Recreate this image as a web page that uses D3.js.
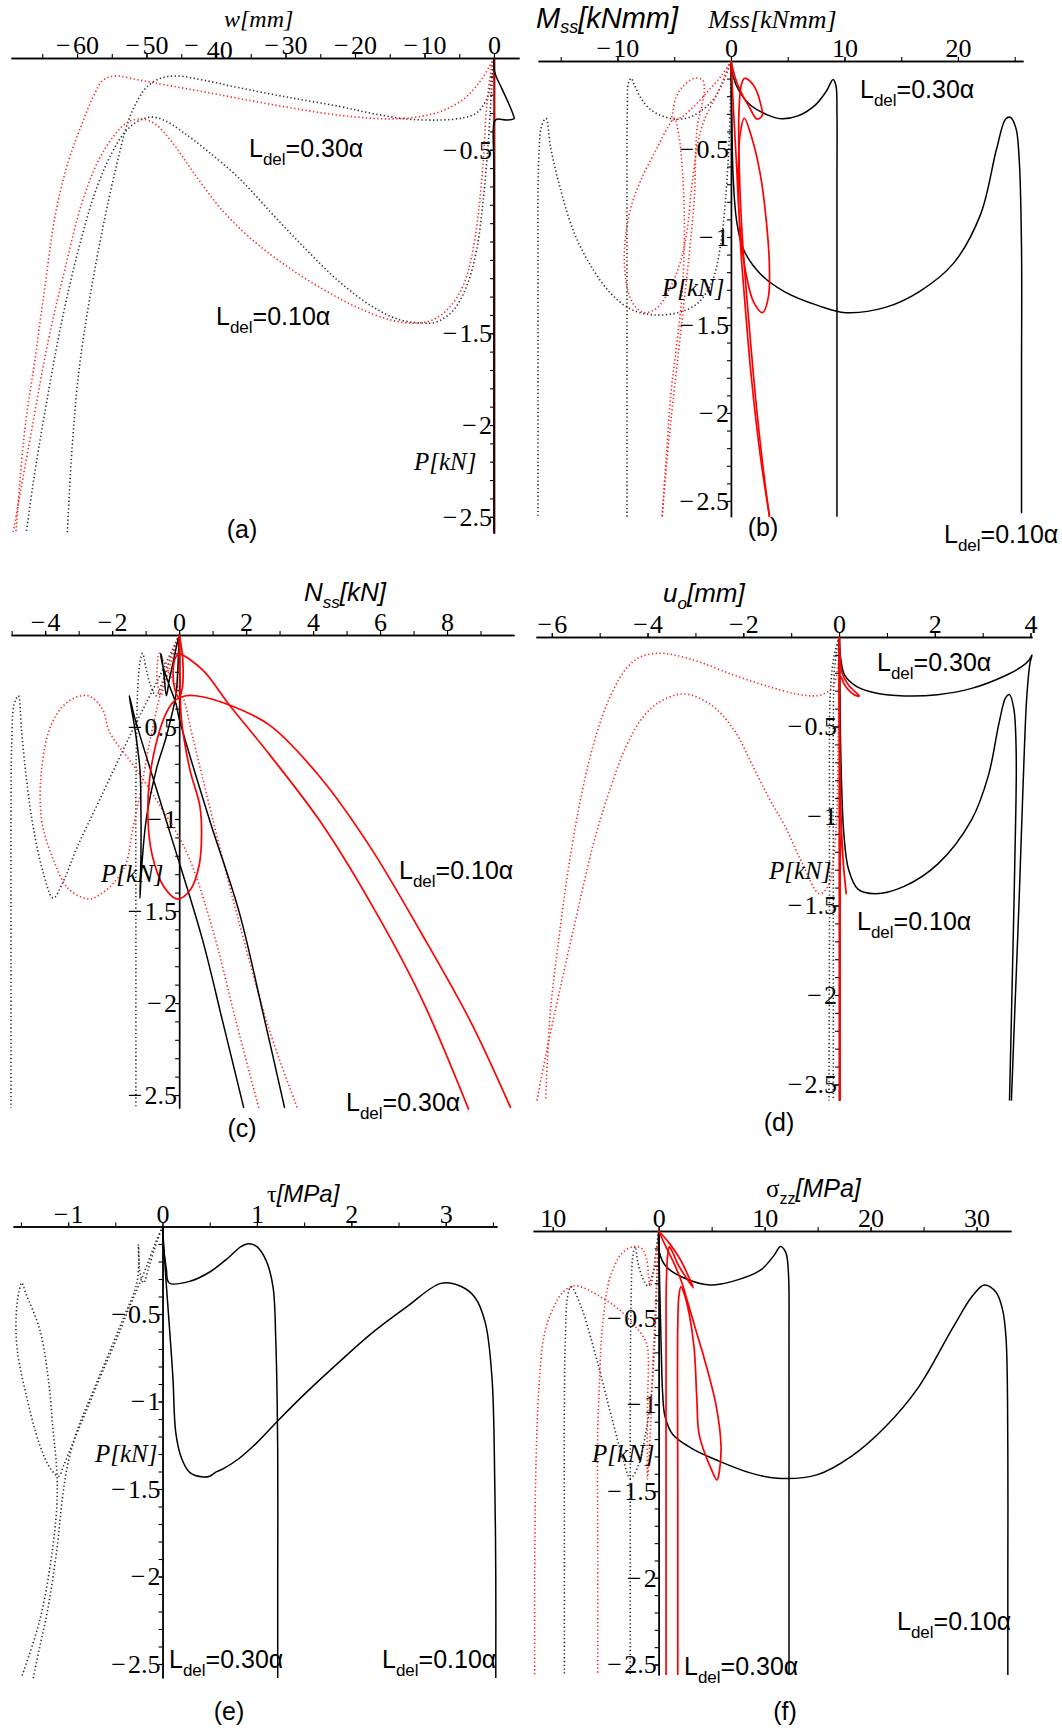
<!DOCTYPE html>
<html>
<head>
<meta charset="utf-8">
<script src="https://cdn.jsdelivr.net/npm/d3@7"></script>
<style>
  html, body { margin: 0; padding: 0; background: #fff; }
  svg { display: block; }
</style>
</head>
<body>
<svg id="chart" width="1062" height="1731"></svg>
<script>
// ---------------------------------------------------------------
// Load P [kN] versus response quantities for a delaminated member,
// delamination lengths L_del = 0.10α and 0.30α.
// Each series is a list of [response, P] pairs.
// ---------------------------------------------------------------

// (a) transverse deflection w [mm]
const aBlackDot30 = [[0,0],[-0.34,-0.107],[-1.06,-0.225],[-2.5,-0.299],[-4.4,-0.326],[-7.8,-0.338],[-12.6,-0.332],[-17.4,-0.303],[-22.2,-0.264],[-29.5,-0.215],[-36.7,-0.162],[-41.5,-0.123],[-45.6,-0.098],[-48.0,-0.111],[-49.9,-0.156],[-51.2,-0.225],[-52.6,-0.342],[-54.5,-0.615],[-56.4,-0.947],[-58.3,-1.338],[-59.8,-1.729],[-60.7,-2.119],[-61.4,-2.588]];
const aBlackDot10 = [[0,0],[-0.34,-0.166],[-0.82,-0.459],[-1.54,-0.771],[-2.5,-1.045],[-3.9,-1.24],[-5.9,-1.377],[-8.3,-1.439],[-10.2,-1.445],[-13.6,-1.426],[-17.4,-1.357],[-22.2,-1.221],[-27.0,-1.045],[-31.9,-0.85],[-36.7,-0.654],[-41.5,-0.498],[-44.9,-0.4],[-47.3,-0.342],[-49.2,-0.322],[-51.1,-0.342],[-53.0,-0.4],[-55.0,-0.518],[-57.4,-0.732],[-59.8,-1.045],[-62.2,-1.436],[-64.6,-1.924],[-66.3,-2.314],[-67.3,-2.588]];
const aRedDot30 = [[0,0],[-0.34,-0.025],[-2.0,-0.127],[-4.4,-0.225],[-7.8,-0.293],[-11.2,-0.322],[-15.0,-0.332],[-22.2,-0.312],[-31.9,-0.254],[-41.5,-0.186],[-48.7,-0.137],[-51.5,-0.117],[-54.6,-0.098],[-56.3,-0.123],[-57.6,-0.205],[-59.3,-0.361],[-61.2,-0.557],[-63.1,-0.85],[-64.6,-1.24],[-66.0,-1.63],[-67.5,-2.02],[-68.8,-2.588]];
const aRedDot10 = [[0,0],[-0.34,-0.049],[-1.06,-0.264],[-1.54,-0.557],[-2.26,-0.85],[-3.22,-1.084],[-4.43,-1.24],[-6.35,-1.357],[-8.76,-1.426],[-11.65,-1.445],[-15.0,-1.426],[-19.8,-1.357],[-24.6,-1.26],[-29.5,-1.143],[-34.3,-1.006],[-39.1,-0.83],[-43.4,-0.615],[-46.3,-0.459],[-48.7,-0.361],[-50.8,-0.332],[-52.8,-0.352],[-54.6,-0.42],[-56.9,-0.557],[-59.3,-0.791],[-61.7,-1.143],[-64.1,-1.533],[-66.5,-2.021],[-69.2,-2.588]];
const aBlackSolid = [[0,0],[0,-0.06],[0.3,-0.1],[0.87,-0.146],[2.07,-0.244],[2.79,-0.312],[2.9,-0.33],[1.83,-0.338],[0.38,-0.334],[0.02,-0.35],[0,-0.6],[0,-1.5],[0,-2.59]];
const aRedSolid = [[0,0],[0,-0.8],[0,-1.6],[0,-2.59]];

// (b) bending moment Mss [kNmm]
const bBlackDot30 = [[0,0],[-0.73,-0.127],[-1.47,-0.212],[-2.35,-0.269],[-3.5,-0.316],[-4.7,-0.331],[-5.9,-0.316],[-7.05,-0.278],[-7.93,-0.212],[-8.5,-0.136],[-8.8,-0.098],[-9.04,-0.127],[-9.13,-0.259],[-9.16,-0.544],[-9.16,-1.5],[-9.16,-2.59]];
const bBlackDot10 = [[0,0],[-0.06,-0.26],[-0.23,-0.544],[-0.53,-0.828],[-0.94,-1.055],[-1.61,-1.244],[-2.94,-1.377],[-4.7,-1.43],[-6.75,-1.443],[-8.8,-1.411],[-10.6,-1.32],[-12.3,-1.169],[-13.8,-0.979],[-15.0,-0.733],[-15.9,-0.487],[-16.3,-0.326],[-16.7,-0.373],[-16.9,-0.506],[-17.0,-0.733],[-17.0,-1.017],[-17.0,-1.8],[-17.0,-2.59]];
const bRedDot30 = [[0,0],[-0.8,-0.08],[-2.0,-0.17],[-3.3,-0.26],[-4.4,-0.32],[-5.14,-0.335],[-5.1,-0.28],[-4.8,-0.2],[-4.26,-0.146],[-3.23,-0.098],[-2.5,-0.108],[-2.35,-0.165],[-2.58,-0.26],[-2.94,-0.36],[-3.1,-0.5],[-3.2,-0.75],[-3.6,-1.05],[-4.1,-1.35],[-4.7,-1.7],[-5.3,-2.05],[-5.75,-2.35],[-6.05,-2.59]];
const bRedDot10 = [[0,0],[-1.17,-0.18],[-2.35,-0.335],[-2.94,-0.47],[-3.23,-0.6],[-3.52,-0.75],[-3.82,-0.94],[-4.4,-1.13],[-5.29,-1.28],[-6.46,-1.4],[-7.64,-1.43],[-8.5,-1.39],[-9.1,-1.3],[-9.4,-1.13],[-9.25,-0.98],[-8.81,-0.83],[-7.93,-0.676],[-6.46,-0.487],[-5.5,-0.37],[-5.0,-0.326],[-4.6,-0.42],[-4.25,-0.65],[-4.1,-0.95],[-4.3,-1.32],[-4.8,-1.62],[-5.29,-1.89],[-5.7,-2.25],[-6.08,-2.59]];
const bBlackSolid30 = [[0,0],[0.2,-0.09],[0.8,-0.18],[1.7,-0.25],[3.2,-0.306],[4.4,-0.328],[5.9,-0.312],[7.4,-0.252],[8.4,-0.172],[9.0,-0.105],[9.25,-0.14],[9.34,-0.3],[9.34,-0.666],[9.34,-1.6],[9.34,-2.59]];
const bBlackSolid10 = [[0,0],[0.06,-0.26],[0.2,-0.666],[0.5,-0.908],[1.1,-1.07],[2.6,-1.21],[4.7,-1.31],[7.7,-1.39],[10.1,-1.43],[13.6,-1.4],[16.6,-1.31],[19.6,-1.15],[22.0,-0.87],[23.4,-0.5],[24.2,-0.33],[24.6,-0.32],[25.1,-0.38],[25.4,-0.565],[25.6,-1.07],[25.6,-1.8],[25.6,-2.57]];
const bRedSolid30 = [[0,0],[0.4,-0.1],[0.9,-0.18],[1.6,-0.26],[2.3,-0.33],[2.75,-0.31],[2.6,-0.24],[2.1,-0.15],[1.5,-0.105],[1.17,-0.1],[0.9,-0.14],[0.7,-0.3],[0.73,-0.6],[1.0,-1.0],[1.6,-1.5],[2.3,-2.0],[3.0,-2.4],[3.4,-2.59]];
const bRedSolid10 = [[0,0],[0.2,-0.25],[0.5,-0.6],[0.8,-0.95],[1.3,-1.2],[2.0,-1.37],[2.79,-1.43],[3.3,-1.34],[3.38,-1.15],[3.1,-0.9],[2.6,-0.65],[1.9,-0.45],[1.17,-0.326],[0.8,-0.42],[0.66,-0.64],[0.8,-1.0],[1.2,-1.35],[1.8,-1.8],[2.6,-2.25],[3.4,-2.59]];

// (c) axial force Nss [kN]
const cBlackDot30 = [[0,0],[-0.25,-0.12],[-0.49,-0.25],[-0.69,-0.33],[-0.86,-0.27],[-0.99,-0.18],[-1.09,-0.1],[-1.17,-0.15],[-1.24,-0.31],[-1.27,-0.55],[-1.29,-0.82],[-1.29,-1.7],[-1.29,-2.57]];
const cBlackDot10 = [[0,0],[-0.57,-0.22],[-1.37,-0.51],[-2.36,-0.89],[-3.06,-1.16],[-3.46,-1.34],[-3.76,-1.43],[-4.06,-1.29],[-4.36,-1.04],[-4.56,-0.78],[-4.71,-0.51],[-4.8,-0.33],[-4.93,-0.38],[-5.0,-0.6],[-5.02,-1.0],[-5.02,-1.8],[-5.02,-2.57]];
const cRedDot30 = [[0,0],[-0.22,-0.14],[-0.42,-0.26],[-0.55,-0.33],[-0.66,-0.24],[-0.64,-0.14],[-0.6,-0.1],[-0.45,-0.15],[-0.2,-0.24],[0.1,-0.33],[0.4,-0.55],[0.8,-0.85],[1.7,-1.5],[2.7,-2.15],[3.55,-2.58]];
const cRedDot10 = [[0,0],[-0.3,-0.15],[-0.6,-0.35],[-0.9,-0.6],[-1.15,-0.85],[-1.37,-1.04],[-1.6,-1.25],[-1.92,-1.34],[-2.36,-1.41],[-2.69,-1.435],[-3.3,-1.38],[-3.8,-1.2],[-4.11,-1.0],[-4.1,-0.72],[-3.8,-0.48],[-3.3,-0.36],[-2.72,-0.33],[-2.3,-0.4],[-2.07,-0.53],[-1.4,-0.7],[-0.77,-0.87],[0.22,-1.18],[1.0,-1.6],[1.7,-2.1],[2.38,-2.57]];
const cBlackSolid30 = [[0,0],[-0.1,-0.08],[-0.18,-0.15],[-0.3,-0.25],[-0.38,-0.33],[-0.45,-0.22],[-0.52,-0.12],[-0.55,-0.1],[-0.5,-0.16],[-0.3,-0.27],[-0.1,-0.37],[0.01,-0.46],[0.9,-1.0],[1.8,-1.51],[2.5,-2.05],[3.15,-2.57]];
const cBlackSolid10 = [[0,0],[-0.03,-0.15],[-0.1,-0.33],[-0.38,-0.55],[-0.68,-0.73],[-0.98,-1.0],[-1.12,-1.27],[-1.17,-1.43],[-1.14,-1.2],[-1.14,-0.95],[-1.17,-0.73],[-1.32,-0.51],[-1.49,-0.33],[-1.42,-0.38],[-1.31,-0.46],[-0.28,-1.07],[0.69,-1.65],[1.3,-2.1],[1.93,-2.57]];
const cRedSolid30 = [[0,0],[0.08,-0.08],[0.12,-0.18],[0.1,-0.28],[0.0,-0.34],[-0.12,-0.3],[-0.18,-0.2],[-0.1,-0.12],[0,-0.104],[0.7,-0.19],[1.5,-0.38],[2.7,-0.65],[4.2,-1.01],[5.7,-1.45],[7.2,-1.96],[8.65,-2.58]];
const cRedSolid10 = [[0,0],[0.02,-0.2],[0.07,-0.46],[0.32,-0.73],[0.62,-0.93],[0.67,-1.09],[0.6,-1.25],[0.35,-1.38],[-0.05,-1.435],[-0.45,-1.37],[-0.8,-1.2],[-0.93,-1.0],[-0.88,-0.78],[-0.7,-0.6],[-0.45,-0.45],[-0.15,-0.36],[0.2,-0.33],[0.5,-0.33],[1.5,-0.38],[2.7,-0.49],[4.2,-0.77],[5.7,-1.15],[7.2,-1.61],[8.7,-2.1],[9.9,-2.57]];

// (d) axial displacement u_o [mm]
const dBlackDot30 = [[0,0],[-0.05,-0.08],[-0.1,-0.2],[-0.12,-0.5],[-0.12,-1.5],[-0.12,-2.59]];
const dBlackDot10 = [[0,0],[-0.1,-0.1],[-0.18,-0.3],[-0.2,-1.0],[-0.2,-1.45],[-0.21,-2.59]];
const dRedDot30 = [[0,0],[-0.02,-0.153],[-0.13,-0.277],[-0.34,-0.32],[-0.55,-0.329],[-0.9,-0.318],[-1.47,-0.277],[-2.18,-0.215],[-2.88,-0.143],[-3.45,-0.1],[-3.8,-0.091],[-4.15,-0.112],[-4.44,-0.174],[-4.79,-0.339],[-5.07,-0.545],[-5.36,-0.855],[-5.64,-1.27],[-5.85,-1.68],[-6.03,-2.095],[-6.13,-2.59]];
const dRedDot10 = [[0,0],[-0.02,-0.649],[-0.06,-1.062],[-0.13,-1.269],[-0.23,-1.393],[-0.41,-1.434],[-0.76,-1.269],[-1.12,-1.062],[-1.47,-0.897],[-1.82,-0.711],[-2.18,-0.525],[-2.67,-0.38],[-3.24,-0.318],[-3.73,-0.36],[-4.08,-0.442],[-4.44,-0.607],[-4.79,-0.855],[-5.14,-1.165],[-5.5,-1.578],[-5.85,-1.992],[-6.13,-2.343],[-6.31,-2.59]];
const dBlackSolid30 = [[0,0],[0.03,-0.112],[0.12,-0.215],[0.37,-0.277],[0.79,-0.314],[1.36,-0.329],[2.06,-0.322],[2.77,-0.287],[3.48,-0.215],[3.83,-0.163],[3.97,-0.128],[4.03,-0.101],[3.99,-0.143],[3.92,-0.339],[3.84,-0.855],[3.76,-1.475],[3.67,-2.095],[3.6,-2.59]];
const dBlackSolid10 = [[0,0],[0.02,-0.4],[0.05,-0.8],[0.1,-1.1],[0.2,-1.3],[0.4,-1.41],[0.76,-1.434],[1.36,-1.393],[2.06,-1.269],[2.77,-1.02],[3.12,-0.773],[3.34,-0.483],[3.48,-0.339],[3.56,-0.322],[3.65,-0.4],[3.7,-0.649],[3.67,-1.269],[3.62,-1.888],[3.56,-2.59]];
const dRedSolid30 = [[0,0],[0.02,-0.1],[0.06,-0.2],[0.2,-0.27],[0.42,-0.33],[0.3,-0.32],[0.12,-0.27],[0.03,-0.22],[0.01,-0.5],[0.01,-1.5],[0.01,-2.59]];
const dRedSolid10 = [[0,0],[0.01,-0.5],[0.04,-1.0],[0.1,-1.3],[0.15,-1.434],[0.1,-1.3],[0.04,-1.1],[0.02,-1.5],[0.02,-2.0],[0.02,-2.59]];

// (e) shear stress τ [MPa]
const eBlackDot30 = [[0,0],[-0.08,-0.12],[-0.15,-0.24],[-0.2,-0.322],[-0.24,-0.26],[-0.256,-0.103],[-0.25,-0.2],[-0.28,-0.34],[-0.42,-0.53],[-0.58,-0.74],[-0.75,-0.96],[-0.9,-1.16],[-1.0,-1.35],[-1.06,-1.55],[-1.12,-1.85],[-1.22,-2.2],[-1.3,-2.4],[-1.37,-2.58]];
const eBlackDot10 = [[0,0],[-0.08,-0.1],[-0.2,-0.27],[-0.35,-0.46],[-0.5,-0.66],[-0.66,-0.86],[-0.82,-1.07],[-0.96,-1.25],[-1.05,-1.37],[-1.1,-1.427],[-1.18,-1.39],[-1.3,-1.25],[-1.45,-0.95],[-1.54,-0.7],[-1.55,-0.5],[-1.52,-0.37],[-1.49,-0.322],[-1.45,-0.38],[-1.3,-0.59],[-1.21,-0.87],[-1.16,-1.16],[-1.12,-1.4],[-1.12,-1.6],[-1.18,-1.9],[-1.3,-2.25],[-1.49,-2.57]];
const eBlackSolid30 = [[0,0],[0.01,-0.115],[0.04,-0.24],[0.07,-0.323],[0.29,-0.313],[0.5,-0.26],[0.7,-0.177],[0.83,-0.115],[0.91,-0.098],[1.0,-0.115],[1.1,-0.198],[1.17,-0.344],[1.2,-0.656],[1.22,-1.28],[1.22,-2.0],[1.22,-2.58]];
const eBlackSolid10 = [[0,0],[0.036,-0.302],[0.07,-0.552],[0.11,-0.865],[0.14,-1.177],[0.2,-1.323],[0.29,-1.406],[0.43,-1.431],[0.5,-1.427],[0.56,-1.405],[0.64,-1.385],[0.8,-1.33],[1.0,-1.235],[1.24,-1.1],[1.51,-0.955],[1.87,-0.775],[2.23,-0.604],[2.59,-0.458],[2.95,-0.325],[3.17,-0.344],[3.31,-0.406],[3.42,-0.552],[3.49,-0.865],[3.52,-1.49],[3.53,-2.0],[3.53,-2.58]];

// (f) normal stress σzz [MPa]
const fBlackDot30 = [[0,0],[-0.2,-0.1],[-0.57,-0.25],[-1.04,-0.316],[-1.51,-0.272],[-1.98,-0.178],[-2.2,-0.091],[-2.45,-0.15],[-2.6,-0.389],[-2.67,-0.77],[-2.68,-1.6],[-2.68,-2.56]];
const fBlackDot10 = [[0,0],[-0.15,-0.25],[-0.41,-0.677],[-0.73,-0.965],[-1.2,-1.157],[-1.9,-1.35],[-2.68,-1.427],[-3.3,-1.33],[-4.5,-1.06],[-5.5,-0.82],[-6.39,-0.62],[-7.3,-0.44],[-8.27,-0.321],[-8.6,-0.38],[-8.8,-0.6],[-8.9,-1.0],[-8.9,-1.8],[-8.9,-2.56]];
const fRedDot30 = [[0,0],[-0.25,-0.12],[-0.5,-0.25],[-0.8,-0.32],[-0.95,-0.26],[-1.15,-0.16],[-1.6,-0.1],[-2.45,-0.091],[-3.5,-0.13],[-4.3,-0.22],[-4.7,-0.29],[-5.35,-0.58],[-5.6,-0.9],[-5.75,-1.15],[-5.75,-1.9],[-5.75,-2.56]];
const fRedDot10 = [[0,0],[-0.2,-0.3],[-0.5,-0.7],[-0.75,-1.1],[-0.95,-1.35],[-1.07,-1.43],[-1.08,-1.3],[-1.05,-1.0],[-1.04,-0.677],[-1.35,-0.62],[-2.3,-0.543],[-3.87,-0.446],[-5.75,-0.37],[-7.0,-0.33],[-7.96,-0.316],[-9.0,-0.35],[-10.0,-0.45],[-10.8,-0.6],[-11.3,-0.9],[-11.6,-1.4],[-11.7,-2.0],[-11.7,-2.56]];
const fBlackSolid30 = [[0,0],[0.06,-0.121],[0.7,-0.205],[2.29,-0.268],[4.83,-0.311],[7.05,-0.289],[9.6,-0.226],[10.87,-0.142],[11.5,-0.089],[12.0,-0.125],[12.25,-0.247],[12.3,-0.626],[12.3,-1.6],[12.3,-2.56]];
const fBlackSolid10 = [[0,0],[0.06,-0.205],[0.22,-0.626],[0.38,-0.942],[0.6,-1.07],[1.33,-1.174],[3.24,-1.258],[5.47,-1.321],[8.64,-1.395],[11.19,-1.426],[15.0,-1.405],[18.18,-1.3],[21.35,-1.132],[24.53,-0.9],[27.71,-0.563],[29.62,-0.374],[30.73,-0.311],[31.84,-0.353],[32.47,-0.458],[32.79,-0.626],[32.95,-1.258],[32.95,-2.0],[32.95,-2.56]];
const fRedSolid30 = [[0,0],[1.0,-0.07],[2.0,-0.16],[2.8,-0.26],[3.27,-0.327],[2.6,-0.27],[1.8,-0.19],[1.3,-0.12],[1.0,-0.091],[0.85,-0.14],[0.75,-0.25],[0.7,-0.4],[0.7,-1.5],[0.7,-2.56]];
const fRedSolid10 = [[0,0],[0.6,-0.08],[1.4,-0.18],[2.2,-0.3],[2.73,-0.408],[3.5,-0.57],[4.3,-0.735],[5.4,-1.0],[5.88,-1.235],[5.72,-1.389],[5.5,-1.436],[4.93,-1.369],[3.83,-1.177],[3.6,-0.965],[3.35,-0.677],[2.9,-0.485],[2.4,-0.36],[2.1,-0.321],[1.9,-0.38],[1.8,-0.55],[1.8,-1.5],[1.8,-2.56]];

// Tick values
const aXLabels = [-60, -50, -40, -30, -20, -10, 0];
const bXLabels = [-10, 0, 10, 20];
const cXLabels = [-4, -2, 0, 2, 4, 6, 8];
const dXLabels = [-6, -4, -2, 0, 2, 4];
const eXLabels = [-1, 0, 1, 2, 3];
const fXLabels = [-10, 0, 10, 20, 30];
const pLabels = [-0.5, -1, -1.5, -2, -2.5];
const pLabelsA = [-0.5, -1.5, -2, -2.5];

// ---------------------------------------------------------------
const SERIF = "'Liberation Serif','Times New Roman',Times,serif";
const SANS = "'Liberation Sans',Arial,Helvetica,sans-serif";
const MINUS = "\u2212";
const TICK_FONT = 26;

const lineStyles = {
  blackDot:   { stroke: "#2e2e2e", width: 1.6, dash: "1.3 2.5" },
  redDot:     { stroke: "#ff2020", width: 1.6, dash: "1.3 2.5" },
  blackSolid: { stroke: "#000000", width: 1.5, dash: null },
  redSolid:   { stroke: "#ff0000", width: 1.7, dash: null }
};

const signed = v => (v < 0 ? MINUS + "\u200a" : "") + Math.abs(v);
const minorP = d3.range(1, 26).map(i => -i / 10);

const panels = [
  { id: "a", xDomain: [-69.5, 3.6], xRange: [11, 519], pMin: -2.59, yRange: [58, 533.3],
    xLabels: aXLabels, xMinor: d3.range(-65, 1, 5), xFmt: signed, pLab: pLabelsA,
    series: [[aBlackDot30, "blackDot"], [aBlackDot10, "blackDot"], [aRedDot30, "redDot"], [aRedDot10, "redDot"],
             [aRedSolid, "redSolid"], [aBlackSolid, "blackSolid"]] },
  { id: "b", xDomain: [-17.0, 25.73], xRange: [538, 1023], pMin: -2.59, yRange: [61, 516.8],
    xLabels: bXLabels, xMinor: d3.range(-15, 26, 5), xFmt: signed, pLab: pLabels,
    series: [[bBlackDot30, "blackDot"], [bBlackDot10, "blackDot"], [bRedDot30, "redDot"], [bRedDot10, "redDot"],
             [bBlackSolid30, "blackSolid"], [bBlackSolid10, "blackSolid"], [bRedSolid30, "redSolid"], [bRedSolid10, "redSolid"]] },
  { id: "c", xDomain: [-5.02, 10.0], xRange: [11, 514], pMin: -2.57, yRange: [635, 1107.9],
    xLabels: cXLabels, xMinor: d3.range(-5, 10, 1), xFmt: signed, pLab: pLabels,
    series: [[cBlackDot30, "blackDot"], [cBlackDot10, "blackDot"], [cRedDot30, "redDot"], [cRedDot10, "redDot"],
             [cBlackSolid30, "blackSolid"], [cBlackSolid10, "blackSolid"], [cRedSolid30, "redSolid"], [cRedSolid10, "redSolid"]] },
  { id: "d", xDomain: [-6.33, 4.03], xRange: [536, 1032], pMin: -2.59, yRange: [637, 1100.6],
    xLabels: dXLabels, xMinor: d3.range(-6, 5, 1), xFmt: signed, pLab: pLabels,
    series: [[dBlackDot30, "blackDot"], [dBlackDot10, "blackDot"], [dRedDot30, "redDot"], [dRedDot10, "redDot"],
             [dBlackSolid30, "blackSolid"], [dBlackSolid10, "blackSolid"], [dRedSolid30, "redSolid"], [dRedSolid10, "redSolid"]] },
  { id: "e", xDomain: [-1.584, 3.543], xRange: [13, 497], pMin: -2.58, yRange: [1226.5, 1678],
    xLabels: eXLabels, xMinor: d3.range(-1.5, 3.6, 0.5), xFmt: signed, pLab: pLabels,
    series: [[eBlackDot30, "blackDot"], [eBlackDot10, "blackDot"], [eBlackSolid30, "blackSolid"], [eBlackSolid10, "blackSolid"]] },
  { id: "f", xDomain: [-11.86, 33.25], xRange: [533, 1011], pMin: -2.56, yRange: [1231, 1674.9],
    xLabels: fXLabels, xMinor: d3.range(-10, 31, 5), xFmt: v => String(Math.abs(v)), pLab: pLabels,
    series: [[fBlackDot30, "blackDot"], [fBlackDot10, "blackDot"], [fRedDot30, "redDot"], [fRedDot10, "redDot"],
             [fBlackSolid30, "blackSolid"], [fBlackSolid10, "blackSolid"], [fRedSolid30, "redSolid"], [fRedSolid10, "redSolid"]] }
];

const svg = d3.select("#chart");
svg.append("rect").attr("width", 1062).attr("height", 1731).attr("fill", "#fff");

panels.forEach(p => {
  const g = svg.append("g").attr("class", "panel-" + p.id);
  const x = d3.scaleLinear().domain(p.xDomain).range(p.xRange);
  const y = d3.scaleLinear().domain([0, p.pMin]).range(p.yRange);

  // horizontal axis (minor ticks, then labelled ticks)
  const gxMinor = g.append("g").attr("transform", `translate(0,${y(0)})`)
    .call(d3.axisTop(x).tickValues(p.xMinor).tickSize(4).tickSizeOuter(0).tickFormat(() => ""));
  const gx = g.append("g").attr("transform", `translate(0,${y(0)})`)
    .call(d3.axisTop(x).tickValues(p.xLabels).tickSize(4).tickSizeOuter(0).tickPadding(0).tickFormat(p.xFmt));

  // vertical axis
  const gyMinor = g.append("g").attr("transform", `translate(${x(0)},0)`)
    .call(d3.axisLeft(y).tickValues(minorP).tickSize(4).tickSizeOuter(0).tickFormat(() => ""));
  const gy = g.append("g").attr("transform", `translate(${x(0)},0)`)
    .call(d3.axisLeft(y).tickValues(p.pLab).tickSize(4).tickSizeOuter(0).tickPadding(-2).tickFormat(signed));

  [gxMinor, gx, gyMinor, gy].forEach(a => {
    a.selectAll("path.domain").attr("stroke", "#000").attr("stroke-width", 1.4);
    a.selectAll(".tick line").attr("stroke", "#000").attr("stroke-width", 1.1);
    a.attr("font-family", SERIF).attr("font-size", TICK_FONT);
    a.selectAll("text").attr("fill", "#000");
  });

  // curves
  const line = d3.line()
    .x(d => x(d[0]))
    .y(d => y(d[1]))
    .curve(d3.curveCatmullRom.alpha(0.5));

  p.series.forEach(([data, styleKey]) => {
    const st = lineStyles[styleKey];
    g.append("path")
      .datum(data)
      .attr("d", line)
      .attr("fill", "none")
      .attr("stroke", st.stroke)
      .attr("stroke-width", st.width)
      .attr("stroke-dasharray", st.dash)
      .attr("stroke-linejoin", "round");
  });

  p.gx = gx;
});

// the "−40" label on the w axis sits with its digits slightly lowered
panels[0].gx.selectAll(".tick text").filter(d => d === -40).each(function () {
  const t = d3.select(this);
  t.text(null);
  t.append("tspan").attr("dx", -8).text(MINUS);
  t.append("tspan").attr("dx", 8).attr("dy", 5).text("40");
});

// ---------------- annotations ----------------
function ldel(x, y, val) {
  const t = svg.append("text").attr("x", x).attr("y", y)
    .attr("font-family", SANS).attr("font-size", 25).attr("fill", "#000");
  t.append("tspan").text("L");
  t.append("tspan").attr("font-size", 17).attr("dy", 8).text("del");
  t.append("tspan").attr("dy", -8).text("=" + val + "\u03b1");
}
function pLabel(x, y) {
  svg.append("text").attr("x", x).attr("y", y)
    .attr("font-family", SERIF).attr("font-style", "italic").attr("font-size", 25)
    .attr("fill", "#000").text("P[kN]");
}
function caption(x, y, s) {
  svg.append("text").attr("x", x).attr("y", y).attr("text-anchor", "middle")
    .attr("font-family", SANS).attr("font-size", 25).attr("fill", "#000").text(s);
}
function subTitle(x, y, main, sub, rest, size, subSize, family, italic, drop) {
  const dy = drop || 7;
  const t = svg.append("text").attr("x", x).attr("y", y)
    .attr("font-family", family).attr("font-size", size).attr("fill", "#000");
  if (italic) t.attr("font-style", "italic");
  t.append("tspan").text(main);
  if (sub) t.append("tspan").attr("font-size", subSize).attr("dy", dy).text(sub);
  t.append("tspan").attr("dy", sub ? -dy : 0).text(rest);
  return t;
}

// (a)
svg.append("text").attr("x", 224).attr("y", 27).attr("font-family", SERIF)
  .attr("font-style", "italic").attr("font-size", 24).text("w[mm]");
pLabel(414, 470);
ldel(249, 157, "0.30");
ldel(216, 325, "0.10");
caption(242, 538, "(a)");

// (b)
subTitle(536, 28, "M", "ss", "[kNmm]", 29, 18, SANS, true, 5);
svg.append("text").attr("x", 708).attr("y", 28).attr("font-family", SERIF)
  .attr("font-style", "italic").attr("font-size", 26).text("Mss[kNmm]");
pLabel(662, 296);
ldel(860, 98, "0.30");
ldel(944, 543, "0.10");
caption(763, 536, "(b)");

// (c)
subTitle(304, 601, "N", "ss", "[kN]", 26, 17, SANS, true);
pLabel(101, 882);
ldel(399, 879, "0.10");
ldel(346, 1111, "0.30");
caption(242, 1137, "(c)");

// (d)
subTitle(663, 602, "u", "o", "[mm]", 26, 17, SANS, true);
pLabel(769, 879);
ldel(877, 671, "0.30");
ldel(857, 930, "0.10");
caption(779, 1131, "(d)");

// (e)
const tauT = svg.append("text").attr("x", 267).attr("y", 1202).attr("font-size", 24).attr("fill", "#000");
tauT.append("tspan").attr("font-family", SERIF).text("\u03c4");
tauT.append("tspan").attr("font-family", SANS).attr("font-style", "italic").text("[MPa]");
pLabel(95, 1462);
ldel(169, 1668, "0.30");
ldel(382, 1668, "0.10");
caption(229, 1720, "(e)");

// (f)
const sigT = svg.append("text").attr("x", 766).attr("y", 1197).attr("font-size", 25).attr("fill", "#000");
sigT.append("tspan").attr("font-family", SERIF).text("\u03c3");
sigT.append("tspan").attr("font-family", SANS).attr("font-size", 16).attr("dy", 7).text("zz");
sigT.append("tspan").attr("font-family", SANS).attr("font-style", "italic").attr("dy", -7).text("[MPa]");
pLabel(592, 1462);
ldel(897, 1630, "0.10");
ldel(684, 1675, "0.30");
caption(785, 1720, "(f)");
</script>
</body>
</html>
